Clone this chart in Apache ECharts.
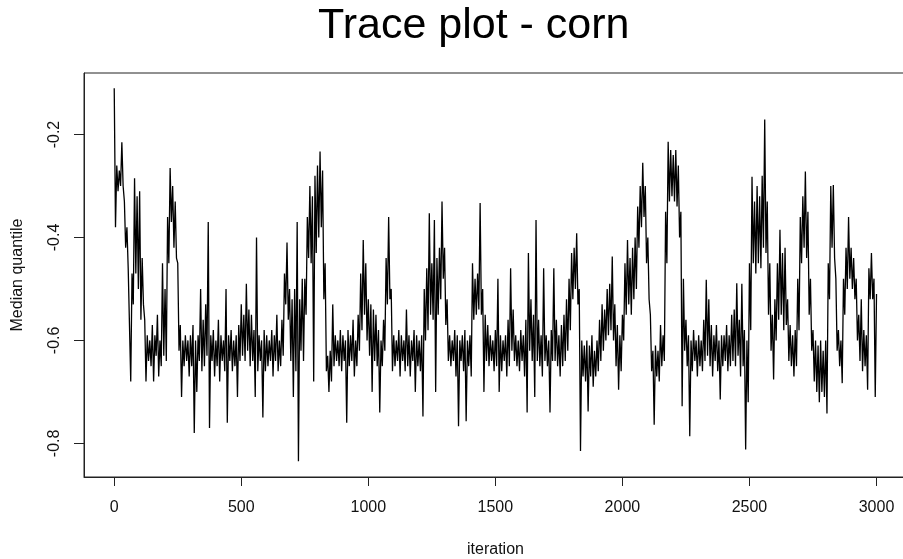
<!DOCTYPE html>
<html>
<head>
<meta charset="utf-8">
<script src="https://cdn.jsdelivr.net/npm/echarts@6/dist/echarts.min.js"></script>
<style>
html,body{margin:0;padding:0;background:#fff;}
#c{width:903px;height:559px;}
</style>
</head>
<body>
<div id="c"></div>
<script>
const titleText = 'Trace plot - corn';
const xName = 'iteration';
const yName = 'Median quantile';
const xTicks = [0, 500, 1000, 1500, 2000, 2500, 3000];
const yTicks = [-0.8, -0.6, -0.4, -0.2];
// trace: values at iterations 0,10,20,...,3000
const traceEven = [
 -0.11,-0.26,-0.27,-0.215,-0.33,-0.38,-0.46,-0.47,-0.285,-0.32,
 -0.31,-0.44,-0.56,-0.59,-0.60,-0.57,-0.59,-0.55,-0.60,-0.45,
 -0.50,-0.36,-0.265,-0.30,-0.33,-0.45,-0.57,-0.60,-0.59,-0.60,
 -0.59,-0.57,-0.60,-0.59,-0.50,-0.56,-0.53,-0.37,-0.59,-0.58,
 -0.60,-0.56,-0.59,-0.60,-0.50,-0.59,-0.58,-0.60,-0.59,-0.57,
 -0.53,-0.55,-0.49,-0.54,-0.55,-0.58,-0.40,-0.59,-0.60,-0.58,
 -0.59,-0.60,-0.58,-0.59,-0.55,-0.60,-0.56,-0.47,-0.41,-0.50,
 -0.52,-0.50,-0.37,-0.52,-0.48,-0.48,-0.36,-0.30,-0.32,-0.28,
 -0.26,-0.233,-0.27,-0.45,-0.63,-0.62,-0.53,-0.59,-0.60,-0.58,
 -0.59,-0.60,-0.58,-0.59,-0.56,-0.60,-0.55,-0.47,-0.405,-0.45,
 -0.52,-0.53,-0.54,-0.55,-0.58,-0.60,-0.56,-0.44,-0.36,-0.50,
 -0.59,-0.60,-0.58,-0.59,-0.60,-0.54,-0.59,-0.60,-0.58,-0.59,
 -0.60,-0.59,-0.50,-0.46,-0.353,-0.45,-0.366,-0.44,-0.42,-0.33,
 -0.42,-0.52,-0.59,-0.60,-0.58,-0.59,-0.60,-0.59,-0.58,-0.60,
 -0.59,-0.45,-0.48,-0.47,-0.333,-0.50,-0.55,-0.57,-0.59,-0.60,
 -0.58,-0.48,-0.59,-0.60,-0.59,-0.56,-0.46,-0.54,-0.59,-0.60,
 -0.58,-0.59,-0.56,-0.43,-0.52,-0.55,-0.366,-0.56,-0.59,-0.46,
 -0.59,-0.60,-0.58,-0.46,-0.56,-0.59,-0.57,-0.55,-0.52,-0.48,
 -0.43,-0.42,-0.392,-0.50,-0.60,-0.61,-0.60,-0.61,-0.59,-0.62,
 -0.60,-0.56,-0.53,-0.54,-0.50,-0.49,-0.437,-0.53,-0.57,-0.59,
 -0.55,-0.45,-0.405,-0.44,-0.42,-0.40,-0.34,-0.30,-0.255,-0.30,
 -0.40,-0.55,-0.62,-0.61,-0.62,-0.57,-0.59,-0.35,-0.214,-0.23,
 -0.24,-0.23,-0.26,-0.35,-0.48,-0.56,-0.59,-0.60,-0.58,-0.60,
 -0.59,-0.60,-0.56,-0.482,-0.52,-0.57,-0.59,-0.57,-0.60,-0.59,
 -0.59,-0.57,-0.59,-0.55,-0.54,-0.489,-0.56,-0.49,-0.58,-0.60,
 -0.45,-0.282,-0.33,-0.30,-0.32,-0.28,-0.171,-0.33,-0.45,-0.55,
 -0.52,-0.45,-0.385,-0.43,-0.42,-0.52,-0.57,-0.59,-0.58,-0.48,
 -0.36,-0.32,-0.272,-0.35,-0.48,-0.58,-0.60,-0.61,-0.60,-0.62,
 -0.60,-0.45,-0.30,-0.298,-0.48,-0.58,-0.60,-0.48,-0.42,-0.36,
 -0.42,-0.44,-0.48,-0.55,-0.52,-0.58,-0.59,-0.46,-0.43,-0.48,
 -0.51
];
// trace: values at iterations 5,15,25,...,2995
const traceOdd = [
 -0.38,-0.31,-0.30,-0.30,-0.42,-0.46,-0.68,-0.53,-0.47,-0.50,
 -0.56,-0.53,-0.68,-0.64,-0.65,-0.68,-0.63,-0.67,-0.65,-0.63,
 -0.64,-0.45,-0.37,-0.42,-0.44,-0.62,-0.71,-0.65,-0.64,-0.67,
 -0.65,-0.78,-0.70,-0.64,-0.66,-0.65,-0.63,-0.77,-0.64,-0.67,
 -0.65,-0.68,-0.64,-0.66,-0.76,-0.64,-0.66,-0.65,-0.71,-0.64,
 -0.63,-0.64,-0.62,-0.65,-0.64,-0.71,-0.66,-0.64,-0.75,-0.66,
 -0.65,-0.64,-0.67,-0.64,-0.66,-0.65,-0.63,-0.53,-0.56,-0.64,
 -0.71,-0.66,-0.835,-0.62,-0.64,-0.55,-0.44,-0.45,-0.68,-0.43,
 -0.40,-0.38,-0.52,-0.66,-0.70,-0.68,-0.65,-0.64,-0.65,-0.66,
 -0.64,-0.76,-0.65,-0.64,-0.67,-0.65,-0.62,-0.58,-0.55,-0.60,
 -0.63,-0.70,-0.64,-0.65,-0.74,-0.65,-0.62,-0.53,-0.52,-0.66,
 -0.65,-0.64,-0.67,-0.64,-0.66,-0.65,-0.67,-0.64,-0.70,-0.65,
 -0.66,-0.748,-0.60,-0.58,-0.55,-0.56,-0.70,-0.55,-0.52,-0.48,
 -0.57,-0.64,-0.65,-0.64,-0.67,-0.767,-0.64,-0.66,-0.757,-0.65,
 -0.67,-0.56,-0.55,-0.54,-0.55,-0.70,-0.64,-0.65,-0.64,-0.66,
 -0.65,-0.70,-0.66,-0.64,-0.67,-0.65,-0.62,-0.64,-0.65,-0.66,
 -0.64,-0.67,-0.74,-0.62,-0.64,-0.71,-0.64,-0.65,-0.67,-0.64,
 -0.65,-0.74,-0.64,-0.64,-0.65,-0.67,-0.65,-0.64,-0.62,-0.58,
 -0.52,-0.50,-0.53,-0.815,-0.67,-0.68,-0.738,-0.67,-0.69,-0.67,
 -0.66,-0.64,-0.62,-0.60,-0.59,-0.58,-0.60,-0.65,-0.696,-0.66,
 -0.60,-0.55,-0.53,-0.55,-0.52,-0.50,-0.42,-0.38,-0.36,-0.45,
 -0.52,-0.66,-0.764,-0.67,-0.68,-0.65,-0.64,-0.45,-0.33,-0.32,
 -0.33,-0.34,-0.40,-0.728,-0.62,-0.65,-0.786,-0.66,-0.64,-0.67,
 -0.65,-0.66,-0.64,-0.63,-0.65,-0.67,-0.64,-0.66,-0.715,-0.65,
 -0.64,-0.66,-0.65,-0.64,-0.65,-0.63,-0.67,-0.65,-0.812,-0.72,
 -0.58,-0.45,-0.47,-0.45,-0.46,-0.42,-0.43,-0.55,-0.62,-0.676,
 -0.60,-0.56,-0.55,-0.58,-0.57,-0.64,-0.65,-0.67,-0.65,-0.58,
 -0.45,-0.42,-0.44,-0.55,-0.62,-0.68,-0.70,-0.72,-0.70,-0.71,
 -0.742,-0.52,-0.42,-0.44,-0.62,-0.65,-0.683,-0.55,-0.50,-0.48,
 -0.50,-0.52,-0.60,-0.64,-0.66,-0.65,-0.696,-0.52,-0.52,-0.71
];
const seriesData = [];
for (let i = 0; i < traceEven.length; i++) {
  seriesData.push([i * 10, traceEven[i]]);
  if (i < traceOdd.length) seriesData.push([i * 10 + 5, traceOdd[i]]);
}

const font = 'Liberation Sans, Arial, Helvetica, sans-serif';
const chart = echarts.init(document.getElementById('c'), null, {renderer: 'canvas'});
chart.setOption({
  animation: false,
  backgroundColor: '#ffffff',
  title: {
    text: titleText,
    left: 313,
    top: 0,
    textStyle: {fontFamily: font, fontSize: 43, fontWeight: 'normal', color: '#000'}
  },
  grid: {
    left: 84, top: 73, right: -4, bottom: 82,
    containLabel: false,
    outerBoundsMode: 'none',
    show: true, borderColor: '#222', borderWidth: 1, backgroundColor: 'transparent'
  },
  xAxis: {
    type: 'value',
    min: -118.96, max: 3119.96,
    name: xName, nameLocation: 'middle', nameGap: 65,
    nameTextStyle: {fontFamily: font, fontSize: 16, color: '#111'},
    axisLine: {show: true, onZero: false, lineStyle: {color: '#222', width: 1}},
    splitLine: {show: false},
    axisTick: {show: true, length: 9, inside: false, customValues: xTicks, lineStyle: {color: '#222', width: 1}},
    axisLabel: {customValues: xTicks, margin: 23, fontFamily: font, fontSize: 16, color: '#111',
      formatter: v => String(v)}
  },
  yAxis: {
    type: 'value',
    min: -0.8654, max: -0.0804,
    name: yName, nameLocation: 'middle', nameGap: 58, nameRotate: 90,
    nameTextStyle: {fontFamily: font, fontSize: 16, color: '#111'},
    axisLine: {show: true, onZero: false, lineStyle: {color: '#222', width: 1}},
    splitLine: {show: false},
    axisTick: {show: true, length: 10, inside: false, customValues: yTicks, lineStyle: {color: '#222', width: 1}},
    axisLabel: {customValues: yTicks, rotate: 90, margin: 21, fontFamily: font, fontSize: 16, color: '#111',
      formatter: v => String(Math.round(v * 10) / 10)}
  },
  series: [{
    type: 'line',
    data: seriesData,
    showSymbol: false,
    symbol: 'none',
    sampling: null,
    lineStyle: {color: '#000', width: 1.3},
    z: 2
  }]
});
</script>
</body>
</html>
